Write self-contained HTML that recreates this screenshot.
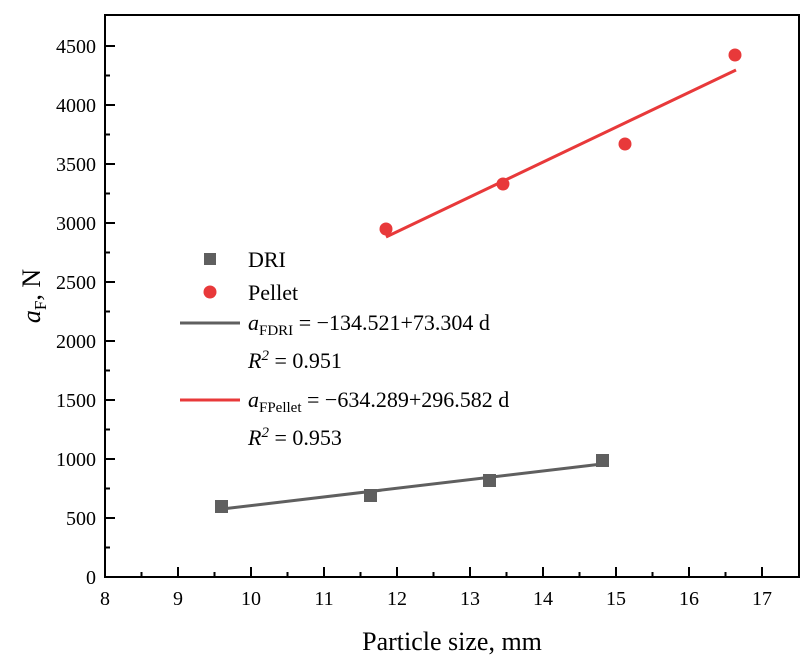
<!DOCTYPE html><html><head><style>body{margin:0;background:#fff} svg text{font-family:"Liberation Serif",serif}</style></head><body>
<svg width="811" height="663" xmlns="http://www.w3.org/2000/svg">
<rect x="105" y="15" width="694" height="562" fill="none" stroke="#000" stroke-width="2"/>
<g stroke="#000" stroke-width="2">
<line x1="105" y1="577" x2="105" y2="567"/><line x1="178" y1="577" x2="178" y2="567"/><line x1="251" y1="577" x2="251" y2="567"/><line x1="324" y1="577" x2="324" y2="567"/><line x1="397" y1="577" x2="397" y2="567"/><line x1="470" y1="577" x2="470" y2="567"/><line x1="543" y1="577" x2="543" y2="567"/><line x1="616" y1="577" x2="616" y2="567"/><line x1="689" y1="577" x2="689" y2="567"/><line x1="762" y1="577" x2="762" y2="567"/>
<line x1="141.5" y1="577" x2="141.5" y2="572"/><line x1="214.5" y1="577" x2="214.5" y2="572"/><line x1="287.5" y1="577" x2="287.5" y2="572"/><line x1="360.5" y1="577" x2="360.5" y2="572"/><line x1="433.5" y1="577" x2="433.5" y2="572"/><line x1="506.5" y1="577" x2="506.5" y2="572"/><line x1="579.5" y1="577" x2="579.5" y2="572"/><line x1="652.5" y1="577" x2="652.5" y2="572"/><line x1="725.5" y1="577" x2="725.5" y2="572"/>
<line x1="105" y1="518" x2="115" y2="518"/><line x1="105" y1="459" x2="115" y2="459"/><line x1="105" y1="400" x2="115" y2="400"/><line x1="105" y1="341" x2="115" y2="341"/><line x1="105" y1="282" x2="115" y2="282"/><line x1="105" y1="223" x2="115" y2="223"/><line x1="105" y1="164" x2="115" y2="164"/><line x1="105" y1="105" x2="115" y2="105"/><line x1="105" y1="46" x2="115" y2="46"/>
<line x1="105" y1="547.5" x2="110" y2="547.5"/><line x1="105" y1="488.5" x2="110" y2="488.5"/><line x1="105" y1="429.5" x2="110" y2="429.5"/><line x1="105" y1="370.5" x2="110" y2="370.5"/><line x1="105" y1="311.5" x2="110" y2="311.5"/><line x1="105" y1="252.5" x2="110" y2="252.5"/><line x1="105" y1="193.5" x2="110" y2="193.5"/><line x1="105" y1="134.5" x2="110" y2="134.5"/><line x1="105" y1="75.5" x2="110" y2="75.5"/>
</g>
<g font-size="20" text-anchor="middle">
<text x="105" y="605">8</text><text x="178" y="605">9</text><text x="251" y="605">10</text><text x="324" y="605">11</text><text x="397" y="605">12</text><text x="470" y="605">13</text><text x="543" y="605">14</text><text x="616" y="605">15</text><text x="689" y="605">16</text><text x="762" y="605">17</text>
</g>
<g font-size="20" text-anchor="end">
<text x="96" y="584">0</text><text x="96" y="525">500</text><text x="96" y="466">1000</text><text x="96" y="407">1500</text><text x="96" y="348">2000</text><text x="96" y="289">2500</text><text x="96" y="230">3000</text><text x="96" y="171">3500</text><text x="96" y="112">4000</text><text x="96" y="53">4500</text>
</g>
<text x="452" y="650" font-size="26" text-anchor="middle">Particle size, mm</text>
<text transform="translate(40,296) rotate(-90)" font-size="26" text-anchor="middle"><tspan font-style="italic">a</tspan><tspan font-size="17" dy="6">F</tspan><tspan dy="-6">, N</tspan></text>
<line x1="222" y1="509" x2="602" y2="464" stroke="#5f5f5f" stroke-width="3"/>
<line x1="386" y1="237" x2="736" y2="70" stroke="#e8393a" stroke-width="3"/>
<g fill="#5f5f5f"><rect x="215" y="500" width="13" height="13"/><rect x="364" y="489" width="13" height="13"/><rect x="483" y="474" width="13" height="13"/><rect x="596" y="454" width="13" height="13"/></g>
<g fill="#e8393a"><circle cx="386" cy="229" r="6.5"/><circle cx="503" cy="184" r="6.5"/><circle cx="625" cy="144" r="6.5"/><circle cx="735" cy="55" r="6.5"/></g>
<rect x="204" y="253" width="12" height="12" fill="#5f5f5f"/>
<circle cx="210" cy="292" r="6.5" fill="#e8393a"/>
<line x1="180" y1="323" x2="240" y2="323" stroke="#5f5f5f" stroke-width="3"/>
<line x1="180" y1="400" x2="240" y2="400" stroke="#e8393a" stroke-width="3"/>
<g font-size="22">
<text x="248" y="267">DRI</text>
<text x="248" y="300">Pellet</text>
<text x="248" y="330"><tspan font-style="italic">a</tspan><tspan font-size="15" dy="5">FDRI</tspan><tspan dy="-5"> = −134.521+73.304 d</tspan></text>
<text x="248" y="368"><tspan font-style="italic">R</tspan><tspan font-size="15" dy="-8" font-style="italic">2</tspan><tspan dy="8"> = 0.951</tspan></text>
<text x="248" y="407"><tspan font-style="italic">a</tspan><tspan font-size="15" dy="5">FPellet</tspan><tspan dy="-5"> = −634.289+296.582 d</tspan></text>
<text x="248" y="445"><tspan font-style="italic">R</tspan><tspan font-size="15" dy="-8" font-style="italic">2</tspan><tspan dy="8"> = 0.953</tspan></text>
</g>
</svg>
</body></html>
